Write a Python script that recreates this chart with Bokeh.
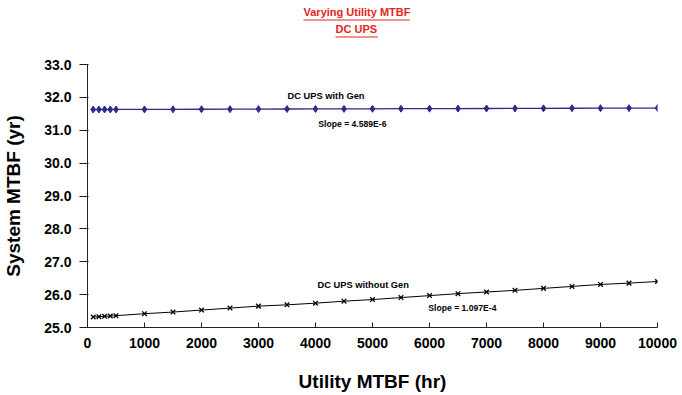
from bokeh.plotting import figure
from bokeh.models import Range1d, SingleIntervalTicker, NumeralTickFormatter, Label, Title
from bokeh.embed import file_html
from bokeh.resources import INLINE

utility_mtbf = [100, 200, 300, 400, 500, 1000, 1500, 2000, 2500, 3000, 3500, 4000,
                4500, 5000, 5500, 6000, 6500, 7000, 7500, 8000, 8500, 9000, 9500, 10000]
with_gen = [31.630, 31.631, 31.631, 31.631, 31.632, 31.634, 31.636, 31.639, 31.641,
            31.643, 31.646, 31.648, 31.650, 31.652, 31.655, 31.657, 31.659, 31.662,
            31.664, 31.666, 31.669, 31.671, 31.673, 31.675]
without_gen = [25.32, 25.33, 25.34, 25.35, 25.36, 25.42, 25.47, 25.53, 25.59, 25.65,
               25.69, 25.74, 25.80, 25.85, 25.91, 25.97, 26.03, 26.08, 26.13, 26.19,
               26.25, 26.31, 26.35, 26.40]
title_lines = ["Varying Utility MTBF", "DC UPS"]

FONT = "Liberation Sans"
RED = "#E3261C"
NAVY = "#2F2A8C"

p = figure(width=682, height=395, output_backend="svg", toolbar_location=None,
           x_range=Range1d(0, 10000), y_range=Range1d(25, 33),
           min_border_left=87, min_border_right=25, min_border_top=64, min_border_bottom=68)
p.outline_line_color = None
p.xgrid.grid_line_color = None
p.ygrid.grid_line_color = None
p.background_fill_color = "white"
p.border_fill_color = "white"

# axes
p.xaxis.ticker = SingleIntervalTicker(interval=1000)
p.yaxis.ticker = SingleIntervalTicker(interval=1)
p.yaxis.formatter = NumeralTickFormatter(format="0.0")
for ax in (p.xaxis[0], p.yaxis[0]):
    ax.axis_line_color = "#222222"
    ax.major_tick_line_color = "#222222"
    ax.minor_tick_line_color = None
    ax.major_label_text_font = FONT
    ax.major_label_text_font_style = "bold"
    ax.major_label_text_font_size = "14px"
    ax.major_label_text_color = "black"
    ax.axis_label_text_font = FONT
    ax.axis_label_text_font_style = "bold"
    ax.axis_label_text_font_size = "19px"
    ax.axis_label_text_color = "black"
p.xaxis.major_tick_in = 5
p.xaxis.major_tick_out = 0
p.xaxis.major_label_standoff = 6
p.xaxis.axis_label = "Utility MTBF (hr)"
p.xaxis.axis_label_standoff = 20
p.yaxis.major_tick_in = 1
p.yaxis.major_tick_out = 8
p.yaxis.major_label_standoff = 8
p.yaxis.axis_label = "System MTBF (yr)"
p.yaxis.axis_label_standoff = 17

# series
p.line(utility_mtbf, with_gen, line_color=NAVY, line_width=1.3)
p.scatter(utility_mtbf, with_gen, marker="diamond", size=7, fill_color=NAVY, line_color=NAVY)
p.line(utility_mtbf, without_gen, line_color="black", line_width=1)
p.scatter(utility_mtbf, without_gen, marker="x", size=6.5, line_color="black", line_width=1.3)

# annotations
def note(x, y, t, size):
    p.add_layout(Label(x=x, y=y, text=t, text_font=FONT, text_font_style="bold",
                       text_font_size=size, text_color="black", text_baseline="middle",
                       text_align="left"))

note(3510, 32.03, "DC UPS with Gen", "9.3px")
note(4050, 31.18, "Slope = 4.589E-6", "8.6px")
note(4035, 26.28, "DC UPS without Gen", "9.3px")
note(5980, 25.59, "Slope = 1.097E-4", "8.6px")

# title: two red bold lines, each with an underline bar (stacked above the frame)
def underline(t, off, half, standoff, color=RED):
    t.text = "\u00a0"
    t.text_font_size = "1px"
    t.align = "left"
    t.offset = off
    t.standoff = standoff
    t.background_fill_color = color
    t.padding = (half, 0)

def title_text(t, txt, off, standoff):
    t.text = txt
    t.text_font = FONT
    t.text_font_style = "bold"
    t.text_font_size = "11px"
    t.text_color = RED
    t.align = "left"
    t.offset = off
    t.standoff = standoff

# stacked outward from the frame: spacer, underline 2, line 2, underline 1; p.title is outermost
spacer = Title()
underline(spacer, 248, 0, 24, color=None)
p.add_layout(spacer, "above")
u2 = Title()
underline(u2, 248, 21, 0)
p.add_layout(u2, "above")
t2 = Title()
title_text(t2, title_lines[1], 248, 0)
p.add_layout(t2, "above")
u1 = Title()
underline(u1, 216, 53, 0)
p.add_layout(u1, "above")
title_text(p.title, title_lines[0], 216, 0)
p.title.vertical_align = "bottom"

open("out.html", "w").write(file_html(p, INLINE))
